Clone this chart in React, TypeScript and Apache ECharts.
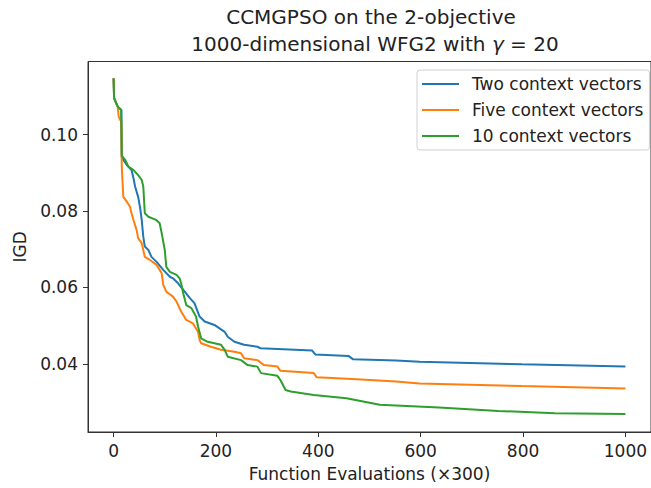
import React, { useEffect, useRef } from 'react';
import * as echarts from 'echarts';

const FONT = 'DejaVu Sans';

const seriesNames = ['Two context vectors', 'Five context vectors', '10 context vectors'];
const seriesColors = ['#1f77b4', '#ff7f0e', '#2ca02c'];
const xTicks = [0, 200, 400, 600, 800, 1000];
const yTicks = [0.04, 0.06, 0.08, 0.1];

const twoX = [0, 1, 8, 15, 16, 26, 35, 39, 42, 48, 52, 55, 58, 61, 68, 74, 84, 97, 110, 116, 126, 139, 149, 158, 168, 178, 197, 207, 217, 223, 236, 255, 281, 287, 388, 394, 459, 468, 552, 598, 798, 1000];
const twoY = [0.1147, 0.1095, 0.1073, 0.1064, 0.094, 0.092, 0.0907, 0.0885, 0.0864, 0.0837, 0.0807, 0.0776, 0.0733, 0.0707, 0.0698, 0.068, 0.0667, 0.0646, 0.0628, 0.0624, 0.0611, 0.0589, 0.0572, 0.0559, 0.0524, 0.0511, 0.0502, 0.0493, 0.0484, 0.0471, 0.0458, 0.045, 0.0445, 0.0441, 0.0435, 0.0425, 0.0421, 0.0412, 0.0409, 0.0406, 0.0399, 0.0393];

const fiveX = [0, 1, 8, 10, 13, 15, 16, 19, 26, 32, 35, 39, 45, 48, 55, 58, 61, 71, 84, 90, 94, 97, 103, 116, 123, 132, 142, 155, 165, 168, 171, 190, 210, 236, 249, 255, 281, 294, 320, 326, 391, 397, 475, 552, 598, 798, 1000];
const fiveY = [0.1147, 0.1095, 0.1073, 0.1047, 0.1038, 0.1035, 0.0916, 0.0837, 0.0824, 0.0811, 0.0794, 0.0776, 0.075, 0.0729, 0.0716, 0.0698, 0.068, 0.0672, 0.0659, 0.0646, 0.0637, 0.0607, 0.0589, 0.0576, 0.0563, 0.0537, 0.0515, 0.0506, 0.0484, 0.0463, 0.0454, 0.0445, 0.0437, 0.0432, 0.0428, 0.0415, 0.041, 0.0397, 0.0393, 0.0382, 0.0376, 0.0365, 0.036, 0.0354, 0.0349, 0.0342, 0.0336];

const tenX = [0, 1, 8, 15, 16, 23, 29, 39, 48, 55, 58, 61, 68, 84, 90, 94, 100, 103, 110, 123, 129, 132, 136, 142, 152, 161, 165, 171, 184, 210, 217, 223, 249, 262, 281, 288, 320, 326, 336, 346, 391, 455, 475, 520, 636, 752, 862, 1000];
const tenY = [0.1147, 0.1095, 0.1073, 0.1064, 0.0945, 0.0933, 0.0916, 0.0907, 0.0894, 0.0881, 0.0864, 0.0794, 0.0785, 0.0776, 0.0768, 0.0742, 0.0698, 0.0654, 0.0641, 0.0633, 0.0624, 0.0611, 0.0585, 0.0554, 0.0546, 0.0524, 0.0498, 0.0467, 0.0458, 0.045, 0.0437, 0.0419, 0.041, 0.0397, 0.0393, 0.0376, 0.0369, 0.0358, 0.0332, 0.0328, 0.0319, 0.031, 0.0305, 0.0293, 0.0286, 0.0277, 0.0271, 0.0269];

const seriesX = [twoX, fiveX, tenX];
const seriesY = [twoY, fiveY, tenY];

const AXIS_COLOR = '#333';
const TEXT_COLOR = '#222';

export default function App() {
  const ref = useRef<HTMLDivElement>(null);

  useEffect(() => {
    if (!ref.current) return;
    const chart = echarts.init(ref.current, null, { renderer: 'svg' });
    const option: any = {
      animation: false,
      backgroundColor: '#ffffff',
      grid: {
        left: 88,
        top: 61.5,
        width: 568,
        height: 370.5,
        show: true,
        borderColor: AXIS_COLOR,
        borderWidth: 1,
        backgroundColor: 'transparent',
      },
      graphic: [
        {
          type: 'text',
          x: 371,
          y: 17,
          style: {
            text: 'CCMGPSO on the 2-objective',
            fontFamily: FONT,
            fontSize: 20,
            fill: TEXT_COLOR,
            align: 'center',
            verticalAlign: 'middle',
          },
        },
        {
          type: 'text',
          x: 375,
          y: 44,
          style: {
            text: '{n|1000-dimensional WFG2 with }{g|γ}{n| = 20}',
            fontFamily: FONT,
            fontSize: 20,
            fill: TEXT_COLOR,
            align: 'center',
            verticalAlign: 'middle',
            rich: {
              n: { fontFamily: FONT, fontSize: 20, fill: TEXT_COLOR },
              g: { fontFamily: FONT, fontSize: 20, fontStyle: 'italic', fill: TEXT_COLOR },
            },
          },
        },
      ],
      xAxis: {
        type: 'value',
        min: -50,
        max: 1050,
        name: 'Function Evaluations (×300)',
        nameLocation: 'middle',
        nameGap: 33,
        nameTextStyle: { fontFamily: FONT, fontSize: 17, color: TEXT_COLOR },
        axisLine: { show: true, onZero: false, lineStyle: { color: AXIS_COLOR, width: 1 } },
        axisTick: { show: true, length: 5, customValues: xTicks, lineStyle: { color: AXIS_COLOR, width: 1 } },
        axisLabel: {
          customValues: xTicks,
          margin: 10,
          fontFamily: FONT,
          fontSize: 17,
          color: TEXT_COLOR,
          formatter: (v: number) => String(v),
        },
        splitLine: { show: false },
      },
      yAxis: {
        type: 'value',
        min: 0.0222,
        max: 0.1191,
        name: 'IGD',
        nameLocation: 'middle',
        nameGap: 60,
        nameTextStyle: { fontFamily: FONT, fontSize: 17, color: TEXT_COLOR },
        axisLine: { show: true, onZero: false, lineStyle: { color: AXIS_COLOR, width: 1 } },
        axisTick: { show: true, length: 5, customValues: yTicks, lineStyle: { color: AXIS_COLOR, width: 1 } },
        axisLabel: {
          customValues: yTicks,
          margin: 10,
          fontFamily: FONT,
          fontSize: 17,
          color: TEXT_COLOR,
          formatter: (v: number) => v.toFixed(2),
        },
        splitLine: { show: false },
      },
      legend: {
        orient: 'vertical',
        left: 417,
        top: 70,
        icon: 'rect',
        itemWidth: 37,
        itemHeight: 2.2,
        itemGap: 8,
        padding: [5, 6, 5, 5],
        borderColor: '#d0d0d0',
        borderWidth: 1,
        borderRadius: 3,
        backgroundColor: 'rgba(255,255,255,0.8)',
        textStyle: { fontFamily: FONT, fontSize: 17, color: TEXT_COLOR, lineHeight: 18, padding: [0, 0, 0, 8] },
        data: seriesNames,
      },
      series: seriesNames.map((name, i) => ({
        name,
        type: 'line',
        symbol: 'none',
        showSymbol: false,
        smooth: false,
        lineStyle: { width: 2, color: seriesColors[i] },
        itemStyle: { color: seriesColors[i] },
        data: seriesX[i].map((x, j) => [x, seriesY[i][j]]),
      })),
    };
    chart.setOption(option);
    return () => chart.dispose();
  }, []);

  return (
    <div
      ref={ref}
      style={{ position: 'absolute', left: 0, top: 0, width: 651, height: 488, background: '#fff' }}
    />
  );
}
